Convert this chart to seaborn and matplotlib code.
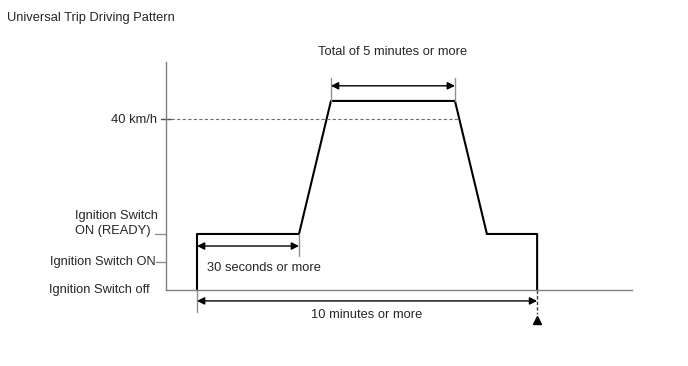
import numpy as np
import pandas as pd
import matplotlib
matplotlib.use("Agg")
import matplotlib.pyplot as plt
import seaborn as sns

# ---- data ----
title = "Universal Trip Driving Pattern"
# time points of the pattern (arbitrary time units)
pattern_t = [1.0, 1.0, 4.29, 5.32, 9.32, 10.35, 11.97, 11.97]
# level: 0 = off, 1 = ON, 2 = ON (READY), speed above
pattern_level = [0, 2, 2, 6.75, 6.75, 2, 2, 0]
level_values = [0, 1, 2, 6.11]
level_labels = ["Ignition Switch off", "Ignition Switch ON",
                "Ignition Switch\nON (READY)", "40 km/h"]
txt_total = "Total of 5 minutes or more"
txt_30s = "30 seconds or more"
txt_10min = "10 minutes or more"

sns.set_theme(style="white")
plt.rcParams['font.family'] = ['Liberation Sans', 'DejaVu Sans']

fig = plt.figure(figsize=(6.88, 3.66), dpi=100)
ax = fig.add_axes([166/688, (366-290)/366, (632-166)/688, (290-62)/366])

df = pd.DataFrame({"t": pattern_t, "level": pattern_level})
sns.lineplot(data=df, x="t", y="level", estimator=None, sort=False,
             color="black", lw=1.5, ax=ax, clip_on=False)

ax.set_xlim(0, 15.03)
ax.set_ylim(0, 8.14)
ax.set_xlabel("")
ax.set_ylabel("")
ax.set_xticks([])
ax.set_yticks([])
for s in ["top", "right"]:
    ax.spines[s].set_visible(False)
for s in ["left", "bottom"]:
    ax.spines[s].set_color("#808080")
    ax.spines[s].set_linewidth(1.0)

gray = "#909090"
fs = 9.3
tc = "#262626"

# level ticks
ax.plot([-10/31, 0], [level_values[1]]*2, color=gray, lw=1, clip_on=False)
ax.plot([-11/31, 0], [level_values[2]]*2, color=gray, lw=1, clip_on=False)
ax.plot([-5/31, 5/31], [level_values[3]]*2, color="#505050", lw=1, clip_on=False)

# level labels
ax.annotate(level_labels[0], xy=(0, level_values[0]), xytext=(-11.5, 0),
            textcoords="offset points", ha="right", va="center", fontsize=fs,
            color=tc)
ax.annotate(level_labels[1], xy=(0, level_values[1]), xytext=(-7.5, 0),
            textcoords="offset points", ha="right", va="center", fontsize=fs,
            color=tc)
ax.annotate(level_labels[2], xy=(0, level_values[2]), xytext=(-5.8, 7.6),
            textcoords="offset points", ha="right", va="center", fontsize=fs,
            multialignment="left", color=tc, linespacing=1.25)
ax.annotate(level_labels[3], xy=(0, level_values[3]), xytext=(-6.5, -1),
            textcoords="offset points", ha="right", va="center", fontsize=fs,
            color=tc)

# dashed 40 km/h line up to the falling edge
x_cross = np.interp(level_values[3], [pattern_level[5], pattern_level[4]],
                    [pattern_t[5], pattern_t[4]])
ax.plot([5/31, x_cross], [level_values[3]]*2, color="#707070", lw=0.8,
        ls=(0, (3, 2)))

# "total of 5 minutes" dimension
y_top = 7.29
for xv in (pattern_t[3], pattern_t[4]):
    ax.plot([xv, xv], [pattern_level[3], 7.57], color=gray, lw=1, clip_on=False)
ax.annotate("", xy=(pattern_t[3], y_top), xytext=(pattern_t[4], y_top),
            arrowprops=dict(arrowstyle="<|-|>", color="black", lw=1,
                            mutation_scale=11, shrinkA=0, shrinkB=0),
            annotation_clip=False)
ax.text((pattern_t[3] + pattern_t[4]) / 2, 8.5, txt_total, ha="center",
        va="center", fontsize=fs, color=tc, clip_on=False)

# "30 seconds" dimension
y_30 = 1.57
ax.plot([pattern_t[2]]*2, [pattern_level[2], 1.21], color=gray, lw=1)
ax.annotate("", xy=(pattern_t[1], y_30), xytext=(pattern_t[2], y_30),
            arrowprops=dict(arrowstyle="<|-|>", color="black", lw=1,
                            mutation_scale=11, shrinkA=0, shrinkB=0))
ax.text(pattern_t[1] + 0.32, 0.79, txt_30s, ha="left", va="center",
        fontsize=fs, color=tc)

# "10 minutes" dimension
y_10 = -0.39
ax.plot([pattern_t[0]]*2, [0, -0.79], color=gray, lw=1, clip_on=False)
ax.plot([pattern_t[-1]]*2, [0, -0.86], color="#404040", lw=1,
        ls=(0, (2.5, 1.5)), clip_on=False)
ax.annotate("", xy=(pattern_t[0], y_10), xytext=(pattern_t[-1], y_10),
            arrowprops=dict(arrowstyle="<|-|>", color="black", lw=1,
                            mutation_scale=11, shrinkA=0, shrinkB=0),
            annotation_clip=False)
ax.text((pattern_t[0] + pattern_t[-1]) / 2, -0.89, txt_10min, ha="center",
        va="center", fontsize=fs, color=tc, clip_on=False)
ax.plot([pattern_t[-1]], [-1.07], marker="^", color="black", ms=6,
        clip_on=False)

fig.text(7/688, 1 - 18/366, title, ha="left", va="center", fontsize=fs,
         color=tc)

fig.savefig("out.png", dpi=100, facecolor="white")
